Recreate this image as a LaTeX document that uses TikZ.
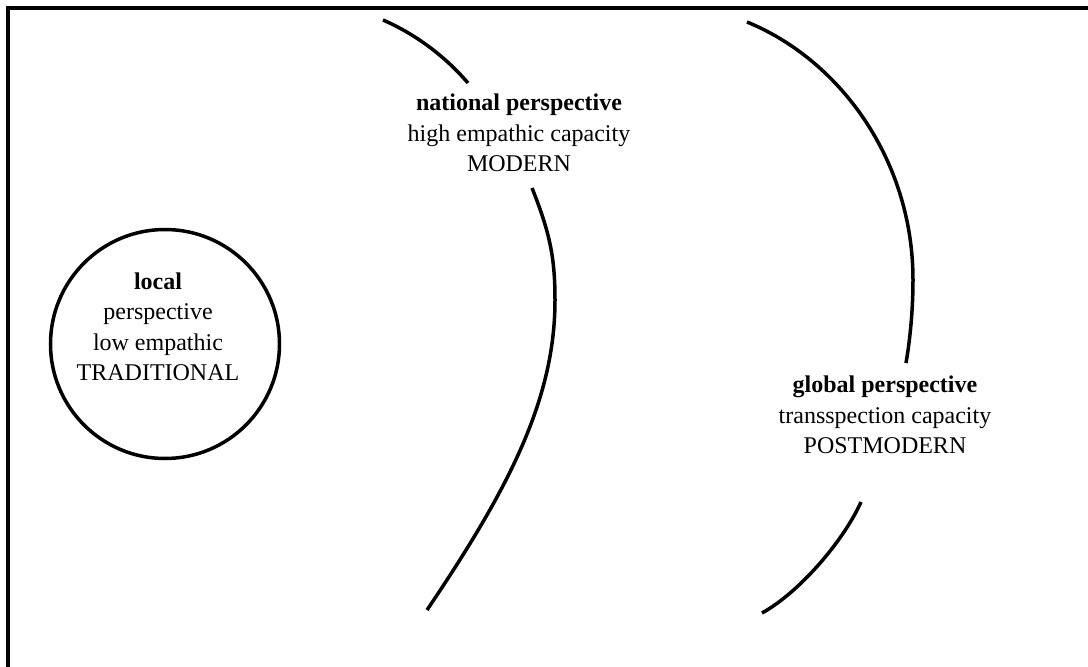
\documentclass[tikz,border=0pt]{standalone}
\usepackage{fontspec}
\setmainfont{Liberation Serif}
\usepackage{tikz}
\usetikzlibrary{positioning}

\tikzset{
	txt/.style={align=center, inner sep=0pt, font=\fontsize{24}{30.5}\selectfont},
	ring/.style={circle, draw, line width=3.5pt, minimum size=229pt, inner sep=0pt},
	arc/.style={line width=3.5pt}
}

\begin{document}
\begin{tikzpicture}[x=1pt,y=-1pt]
	\useasboundingbox (0,0) rectangle (1088,667);
	\clip (0,0) rectangle (1088,667);
	\draw[line width=3.8pt] (8,8) rectangle (1120,700);
	
	\node[ring] (local) at (165,344) {};
	\node[txt] (localtxt) at (158,327) {\textbf{local}\\perspective\\low empathic\\TRADITIONAL};
	
	\node[txt] (national) at (519,133) {\textbf{national perspective}\\high empathic capacity\\MODERN};
	\node[txt] (global) at (885,415) {\textbf{global perspective}\\transspection capacity\\POSTMODERN};
	
	% inner arc
	\draw[arc] (383,20) .. controls (413,33) and (443,54) .. (468,83);
	\draw[arc] (532,188) .. controls (550,233) and (555,258) .. (555,300)
		.. controls (555,400) and (508,490) .. (427,610);
	
	% outer arc
	\draw[arc] (747,22) .. controls (840,60) and (913,160) .. (913,280)
		.. controls (913,310) and (910,340) .. (906,363);
	\draw[arc] (861,502) .. controls (844,540) and (800,592) .. (762,613);
\end{tikzpicture}
\end{document}
